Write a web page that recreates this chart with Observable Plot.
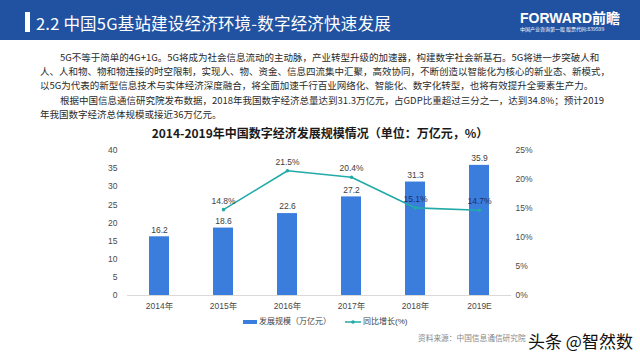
<!DOCTYPE html>
<html><head><meta charset="utf-8">
<script src="https://cdn.jsdelivr.net/npm/d3@7"></script>
<script src="https://cdn.jsdelivr.net/npm/@observablehq/plot@0.6"></script>
<style>
body{margin:0;background:#fff;}
#page{position:relative;width:640px;height:360px;overflow:hidden;background:#fff;font-family:"Noto Sans CJK SC","Noto Sans",sans-serif;}
#header{position:absolute;left:0;top:0;width:640px;height:40px;background:#2152a2;}
#hbar{position:absolute;left:25px;top:12px;width:5px;height:20px;background:#fff;}
#htitle{position:absolute;left:36px;top:12px;height:22px;line-height:22px;font-size:16.5px;color:#fff;white-space:nowrap;letter-spacing:0.2px;}
#logo{position:absolute;left:520px;top:9px;font-size:14px;font-weight:bold;color:#fff;line-height:18px;white-space:nowrap;font-family:"Liberation Sans","Noto Sans CJK SC",sans-serif;}
#logosub{position:absolute;left:520px;top:26px;font-size:5px;color:#fff;line-height:6px;white-space:nowrap;}
.pl{position:absolute;font-size:9.5px;line-height:14px;height:14px;color:#2a2a2a;white-space:nowrap;}
.just{text-align:justify;text-align-last:justify;}
#ctitle{position:absolute;left:0;top:125px;width:640px;text-align:center;font-size:12px;font-weight:bold;line-height:16px;color:#1a1a1a;white-space:nowrap;}
#chart{position:absolute;left:0;top:140px;}
#legend{position:absolute;left:243px;top:316px;height:12px;line-height:12px;font-size:8px;color:#404040;white-space:nowrap;font-family:"Liberation Sans","Noto Sans CJK SC",sans-serif;}
#legend span{display:inline-block;vertical-align:middle;}
#source{position:absolute;left:418px;top:332px;font-size:7.7px;line-height:12px;color:#888;white-space:nowrap;}
#wm{position:absolute;left:528px;top:330px;font-size:17px;line-height:22px;color:#111;white-space:nowrap;text-shadow:0 0 2px #fff,0 0 3px #fff;}
</style></head><body>
<div id="page">
  <div id="header"><div id="hbar"></div><div id="htitle">2.2 中国5G基站建设经济环境-数字经济快速发展</div>
    <div id="logo">FORWARD前瞻</div><div id="logosub">中国产业咨询第一股 股票代码:839599</div></div>
  <div class="pl just" style="left:60px;top:50px;width:539px;">5G不等于简单的4G+1G。5G将成为社会信息流动的主动脉，产业转型升级的加速器，构建数字社会新基石。5G将进一步突破人和</div>
  <div class="pl just" style="left:40px;top:64px;width:558px;">人、人和物、物和物连接的时空限制，实现人、物、资金、信息四流集中汇聚，高效协同，不断创造以智能化为核心的新业态、新模式，</div>
  <div class="pl" style="left:40px;top:78px;">以5G为代表的新型信息技术与实体经济深度融合，将全面加速千行百业网络化、智能化、数字化转型，也将有效提升全要素生产力。</div>
  <div class="pl" style="left:60px;top:93px;">根据中国信息通信研究院发布数据，2018年我国数字经济总量达到31.3万亿元，占GDP比重超过三分之一，达到34.8%；预计2019</div>
  <div class="pl" style="left:40px;top:107px;">年我国数字经济总体规模或接近36万亿元。</div>
  <div id="ctitle">2014-2019年中国数字经济发展规模情况（单位：万亿元，%）</div>
  <div id="chart"></div>
  <div id="legend"><span style="width:14px;height:4px;background:#3b7ddd;margin-right:2px;"></span><span>发展规模（万亿元）</span><span style="width:16px;height:8px;margin-left:14px;margin-right:2px;position:relative;"><svg width="16" height="8" style="position:absolute;left:0;top:0"><line x1="0" y1="4" x2="16" y2="4" stroke="#22aaa8" stroke-width="1.5"/><circle cx="8" cy="4" r="1.8" fill="#22aaa8"/></svg></span><span>同比增长(%)</span></div>
  <div id="source">资料来源：中国信息通信研究院</div>
  <div id="wm">头条 @智然数</div>
</div>
<script>
const years = ["2014年","2015年","2016年","2017年","2018年","2019E"];
const scaleValues = [16.2, 18.6, 22.6, 27.2, 31.3, 35.9];
const growthValues = [null, 14.8, 21.5, 20.4, 15.1, 14.7];
const leftTicks = [0, 5, 10, 15, 20, 25, 30, 35, 40];
const rightTicks = [0, 5, 10, 15, 20, 25];

const leftMax = 40, rightMax = 25;
const k = leftMax / rightMax;

const bars = years.map((y, i) => ({year: y, v: scaleValues[i]}));
const growth = years.map((y, i) => ({year: y, g: growthValues[i], v: scaleValues[i]})).filter(d => d.g != null);

const barColor = "#3b7ddd", lineColor = "#22aaa8";
const font = '"Liberation Sans","Noto Sans CJK SC",sans-serif';
const axisColor = "#4a4a4a";

const chart = Plot.plot({
  width: 640, height: 175,
  marginTop: 10, marginBottom: 20, marginLeft: 127, marginRight: 129,
  style: {fontFamily: font, fontSize: "8.5px", color: axisColor, background: "transparent"},
  x: {type: "band", domain: years, paddingInner: 0.6875, paddingOuter: 0.34375, axis: null},
  y: {domain: [0, leftMax], axis: null},
  marks: [
    Plot.barY(bars, {x: "year", y: "v", fill: barColor}),
    Plot.ruleY([0], {stroke: "#d9d9d9", strokeWidth: 1}),
    Plot.axisX({tickSize: 0, tickPadding: 7, label: null, fontSize: 8.5, fill: axisColor}),
    Plot.axisY({ticks: leftTicks, tickSize: 0, tickPadding: 10, label: null, anchor: "left", fontSize: 8.5, fill: axisColor}),
    Plot.axisY({ticks: rightTicks.map(t => t * k), tickFormat: t => Math.round(t / k) + "%", tickSize: 0, tickPadding: 4, label: null, anchor: "right", fontSize: 8.5, fill: axisColor}),
    Plot.text(bars, {x: "year", y: "v", text: d => d.v.toFixed(1), dy: -7, fill: "#404040", fontSize: 8.5}),
    Plot.line(growth, {x: "year", y: d => d.g * k, stroke: lineColor, strokeWidth: 1.6}),
    Plot.dot(growth, {x: "year", y: d => d.g * k, r: 1.8, fill: lineColor}),
    Plot.text(growth, {x: "year", y: d => d.g * k, text: d => d.g.toFixed(1) + "%", dy: -8.5, fontSize: 8.5,
      fill: d => (d.g * k < d.v ? "#1b2f66" : "#404040"), fontWeight: d => (d.g * k < d.v ? "bold" : "normal")})
  ]
});
document.getElementById("chart").appendChild(chart);
</script>
</body></html>
